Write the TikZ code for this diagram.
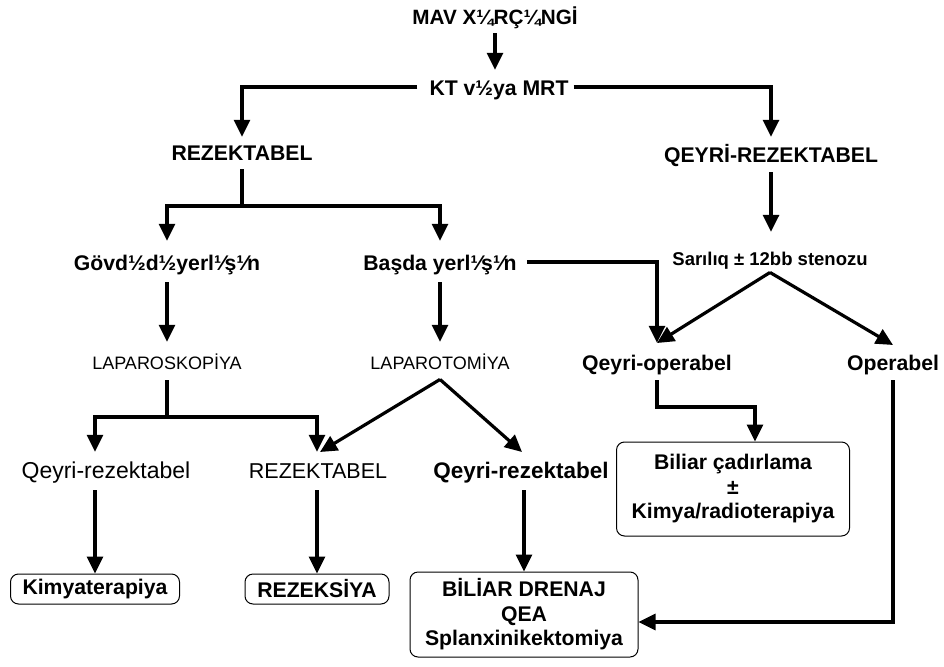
\documentclass[tikz,border=0pt]{standalone}
\usepackage{fontspec}
\setmainfont{Liberation Sans}
\usetikzlibrary{arrows.meta,calc}
\begin{document}
\begin{tikzpicture}[x=1pt,y=-1pt,
  lbl/.style={inner xsep=2pt, inner ysep=0pt, text height=14.5pt, text depth=4pt, font=\fontsize{21.2}{24}\selectfont\bfseries},
  lblr/.style={lbl, font=\fontsize{19}{23}\selectfont},
  box/.style={draw, rounded corners=8pt, line width=1pt, inner sep=0pt, align=center, font=\fontsize{21.2}{24.5}\selectfont\bfseries},
  con/.style={line width=3.2pt},
  arr/.style={con, -{Triangle[width=16pt,length=17pt]}},
]
\useasboundingbox (0,0) rectangle (944,666);

% text nodes
\node[lbl, font=\fontsize{20.7}{24}\selectfont\bfseries] (mav) at (495,19) {MAV X¼RÇ¼NGİ};
\node[lbl] (kt) at (499,90) {KT v½ya MRT};
\node[lbl] (rez) at (242,155) {REZEKTABEL};
\node[lbl] (qrez) at (771,157) {QEYRİ-REZEKTABEL};
\node[lbl] (gov) at (167,265) {Gövd½d½yerl¹⁄ş¹⁄n};
\node[lbl] (basda) at (440,265) {Başda yerl¹⁄ş¹⁄n};
\node[lbl, font=\fontsize{18.5}{22}\selectfont\bfseries] (sar) at (770,260) {Sarılıq ± 12bb stenozu};
\node[lblr, font=\fontsize{18}{22}\selectfont] (lapS) at (167,364) {LAPAROSKOPİYA};
\node[lblr, font=\fontsize{18}{22}\selectfont] (lapT) at (440,364) {LAPAROTOMİYA};
\node[lbl] (qop) at (657,365) {Qeyri-operabel};
\node[lbl] (op) at (893,365) {Operabel};
\node[lblr, font=\fontsize{23}{27}\selectfont] (qrl) at (106,473) {Qeyri-rezektabel};
\node[lblr, font=\fontsize{21.5}{25}\selectfont] (rzr) at (318,473) {REZEKTABEL};
\node[lbl, font=\fontsize{22.5}{26}\selectfont\bfseries] (qrb) at (521,473) {Qeyri-rezektabel};

% boxes
\node[box, minimum width=169pt, minimum height=30pt] (kim) at (95,589) {Kimyaterapiya};
\node[box, minimum width=144pt, minimum height=30pt] (rezk) at (317,589) {REZEKSİYA};
\node[box, minimum width=228pt, minimum height=85pt] (bd) at (524,614.5) {BİLİAR DRENAJ\\QEA\\Splanxinikektomiya};
\node[box, minimum width=233pt, minimum height=94pt] (bil) at (733,489) {Biliar çadırlama\\±\\Kimya/radioterapiya};

% helper coordinates
\coordinate (s1) at (242,206);
\coordinate (s2) at (167,417);
\coordinate (apT) at ([yshift=-6pt]lapT.south);
\coordinate (tR) at (320,452);
\coordinate (tQ) at (522,452);
\coordinate (apS) at ([yshift=-3pt]sar.south);
\coordinate (tO1) at (657,343);
\coordinate (tO2) at (893,345);
\coordinate (q1) at (755,407);

% connectors
\draw[arr, shorten <=4.75pt, shorten >=10.75pt] (mav.south) -- (mav.south |- kt.north);
\draw[arr, shorten <=10pt, shorten >=8.75pt] ([yshift=3pt]kt.west) -| (rez.north);
\draw[arr, shorten <=3pt, shorten >=10.75pt] ([yshift=3pt]kt.east) -| (qrez.north);

\draw[con, shorten <=4.75pt] (rez.south) -- (s1);
\draw[arr, shorten >=14.75pt] (s1) -| (gov.north);
\draw[arr, shorten >=14.75pt] (s1) -| (basda.north);

\draw[arr, shorten <=7.75pt, shorten >=12.75pt] (gov.south) -- (lapS.north);
\draw[arr, shorten <=7.75pt, shorten >=12.75pt] (basda.south) -- (lapT.north);

\draw[con, shorten <=6.75pt] (lapS.south) -- (s2);
\draw[arr, shorten >=11.75pt] (s2) -| (kim.north |- qrl.north);
\draw[arr, shorten >=11.75pt] (s2) -| (rezk.north |- rzr.north);

\draw[arr] (apT) -- (tR);
\draw[arr] (apT) -- (tQ);

\draw[arr, shorten <=7.75pt] (kim.north |- qrl.south) -- (kim.north);
\draw[arr, shorten <=7.75pt] (rezk.north |- rzr.south) -- (rezk.north);
\draw[arr, shorten <=7.75pt] (bd.north |- qrb.south) -- (bd.north);

\draw[arr, shorten <=8pt, shorten >=12.75pt] ([yshift=3pt]basda.east) -| (qop.north);

\draw[arr, shorten <=5.75pt, shorten >=18.75pt] (qrez.south) -- (qrez.south |- sar.north);
\draw[arr] (apS) -- (tO1);
\draw[arr] (apS) -- (tO2);

\draw[arr, shorten <=5.75pt] (qop.south) |- (q1) -- (q1 |- bil.north);
\draw[arr, shorten <=5.75pt] (op.south) |- ([yshift=-7.5pt]bd.east);
\end{tikzpicture}
\end{document}
